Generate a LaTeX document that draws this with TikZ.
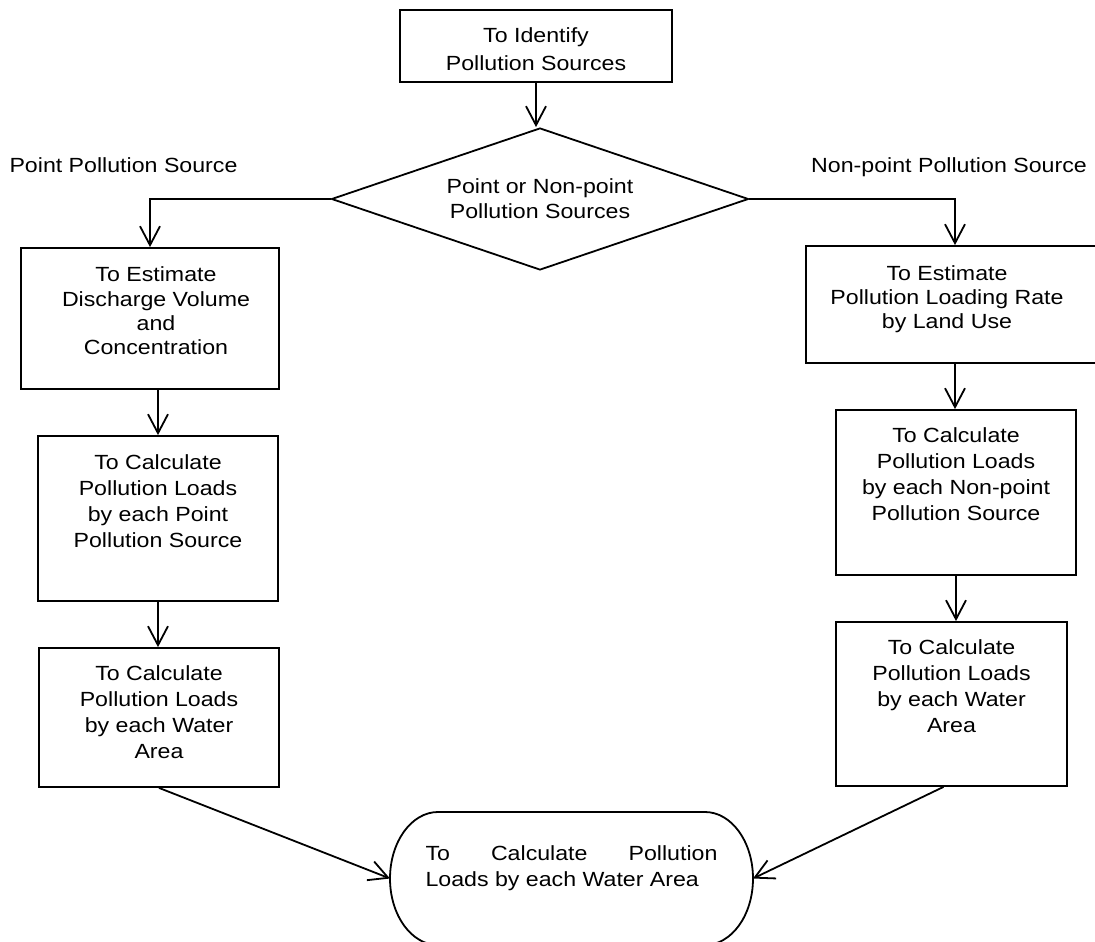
\documentclass[tikz,border=0pt]{standalone}
\usepackage{fontspec}
\setmainfont{Liberation Sans}[FakeStretch=1.13]
\usepackage{tikz}
\usetikzlibrary{arrows.meta}
\usetikzlibrary{shapes.geometric}

\begin{document}
\begin{tikzpicture}[x=1pt,y=-1pt,line width=1.8pt,
	font=\fontsize{20.5}{26}\selectfont,
	>={Straight Barb[length=19pt,width=20pt]},
	stepbox/.style={draw,rectangle,inner sep=0pt},
	txt/.style={align=center,inner sep=0pt,anchor=north,yshift=-19pt}]
	\useasboundingbox (0,0) rectangle (1095,942);
	
	\node[stepbox,minimum width=272pt,minimum height=72pt,
	label={[txt,font=\fontsize{20.5}{28}\selectfont,yshift=1pt]north:To Identify\\Pollution Sources}] at (536,46) (ident) {};
	\node[diamond,draw,aspect=2.94,minimum width=417pt,minimum height=142pt,
	inner sep=0pt,align=center,font=\fontsize{20.5}{25}\selectfont] at (540,199) (decide) {Point or Non-point\\Pollution Sources};
	\node[anchor=base,inner sep=0pt] at (123.5,172.3) (ptsrc) {Point Pollution Source};
	\node[anchor=base,inner sep=0pt] at (949,172.3) (npsrc) {Non-point Pollution Source};
	
	\node[stepbox,minimum width=258pt,minimum height=141pt,
	label={[txt,font=\fontsize{20.5}{24.3}\selectfont,xshift=6pt]north:To Estimate\\Discharge Volume\\and\\Concentration}] at (150,318.5) (estP) {};
	\node[stepbox,minimum width=240pt,minimum height=165pt,
	label={[txt]north:To Calculate\\Pollution Loads\\by each Point\\Pollution Source}] at (158,518.5) (calcP) {};
	\node[stepbox,minimum width=240pt,minimum height=139pt,
	label={[txt,yshift=1pt]north:To Calculate\\Pollution Loads\\by each Water\\Area}] at (159,717.5) (waterP) {};
	
	\node[stepbox,minimum width=298pt,minimum height=117pt,
	label={[txt,font=\fontsize{20.5}{23.6}\selectfont,xshift=-8pt,yshift=-1pt]north:To Estimate\\Pollution Loading Rate\\by Land Use}] at (955,304.5) (estN) {};
	\node[stepbox,minimum width=240pt,minimum height=165pt,
	label={[txt,yshift=1pt]north:To Calculate\\Pollution Loads\\by each Non-point\\Pollution Source}] at (956,492.5) (calcN) {};
	\node[stepbox,minimum width=231pt,minimum height=164pt,
	label={[txt,yshift=1pt]north:To Calculate\\Pollution Loads\\by each Water\\Area}] at (951.5,704) (waterN) {};
	
	\node[rectangle,minimum width=363pt,minimum height=133pt,inner sep=0pt,outer sep=0pt,
	label={[txt,align=left,yshift=-14pt]north:\makebox[292pt][s]{To Calculate Pollution}\\Loads by each Water Area}] at (571.5,878.5) (total) {};
	\draw ([xshift=48pt]total.north west) -- ([xshift=-48pt]total.north east)
	arc[start angle=90,end angle=-90,x radius=48pt,y radius=66.5pt]
	-- ([xshift=48pt]total.south west)
	arc[start angle=270,end angle=90,x radius=48pt,y radius=66.5pt] -- cycle;
	
	\draw[->] (ident.south) -- (ident.south |- decide.north);
	\draw[->] (decide.west) -| (estP.north);
	\draw[->] (decide.east) -| (estN.north);
	\draw[->] (estP.south -| calcP.north) -- (calcP.north);
	\draw[->] (calcP.south) -- (calcP.south |- waterP.north);
	\draw[->] (estN.south) -- (estN.south |- calcN.north);
	\draw[->] (calcN.south) -- (calcN.south |- waterN.north);
	\draw[->] (waterP.south) -- (total.west);
	\draw[->] ([xshift=-8pt]waterN.south) -- (total.east);
\end{tikzpicture}
\end{document}
